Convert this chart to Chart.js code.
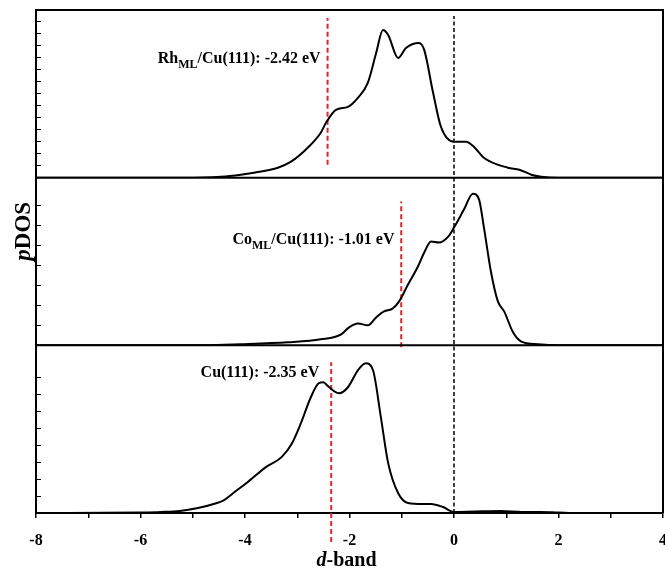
<!DOCTYPE html>
<html lang="en">
<head>
  <meta charset="UTF-8">
  <title>pDOS d-band</title>
  <script src="https://cdn.jsdelivr.net/npm/chart.js"></script>
  <style>
    html, body { margin: 0; padding: 0; background: #fff; }
    #wrap { width: 665px; height: 570px; }
  </style>
</head>
<body>
  <div id="wrap"><canvas id="pdosChart"></canvas></div>
  <script>
    // energy (eV) / pDOS (arb. units)
    const rhEnergy = [-8, -5.2, -4.46, -4.08, -3.83, -3.37, -3.12, -2.78, -2.55, -2.45, -2.26, -2.03, -1.84, -1.65, -1.49, -1.36, -1.26, -1.07, -0.92, -0.67, -0.57, -0.40, -0.25, 0.0, 0.23, 0.38, 0.57, 1.03, 1.25, 1.48, 1.67, 2.0, 4];
    const rhDos = [0, 0, 0.01, 0.03, 0.05, 0.10, 0.16, 0.31, 0.45, 0.55, 0.68, 0.71, 0.80, 0.95, 1.25, 1.48, 1.43, 1.20, 1.30, 1.35, 1.28, 0.85, 0.51, 0.36, 0.36, 0.31, 0.20, 0.10, 0.08, 0.03, 0.01, 0, 0];

    const coEnergy = [-8, -4.8, -4.08, -3.18, -2.55, -2.16, -2.01, -1.84, -1.65, -1.49, -1.34, -1.17, -1.05, -0.88, -0.69, -0.57, -0.44, -0.29, -0.11, 0.0, 0.19, 0.36, 0.48, 0.57, 0.71, 0.84, 0.96, 1.13, 1.28, 1.61, 2.0, 4];
    const coDos = [0, 0, 0.01, 0.03, 0.06, 0.11, 0.18, 0.22, 0.20, 0.28, 0.34, 0.37, 0.44, 0.61, 0.79, 0.93, 1.04, 1.03, 1.09, 1.18, 1.36, 1.52, 1.46, 1.19, 0.73, 0.44, 0.34, 0.13, 0.04, 0.01, 0, 0];

    const cuEnergy = [-8, -7.4, -6.0, -5.6, -5.25, -4.9, -4.6, -4.4, -4.2, -3.97, -3.6, -3.3, -3.1, -2.93, -2.74, -2.59, -2.5, -2.41, -2.2, -2.03, -1.84, -1.69, -1.55, -1.40, -1.26, -1.07, -0.88, -0.6, -0.44, -0.21, 0.0, 0.4, 0.9, 1.3, 1.67, 2.0, 2.38, 4];
    const cuDos = [0, 0, 0.005, 0.01, 0.02, 0.05, 0.09, 0.13, 0.21, 0.30, 0.46, 0.56, 0.70, 0.90, 1.16, 1.30, 1.31, 1.27, 1.20, 1.26, 1.43, 1.50, 1.43, 0.96, 0.50, 0.20, 0.10, 0.09, 0.09, 0.06, 0.01, 0.015, 0.02, 0.01, 0.01, 0.005, 0, 0];

    // d-band centres (eV)
    const centers = { rh: -2.42, co: -1.01, cu: -2.35 };
    const fermi = 0;

    const toPoints = (xs, ys) => xs.map((x, i) => ({ x: x, y: ys[i] }));

    const curve = (data, axis) => ({
      data: toPoints(data[0], data[1]),
      yAxisID: axis,
      borderColor: '#000',
      borderWidth: 2,
      pointRadius: 0,
      fill: false,
      cubicInterpolationMode: 'monotone'
    });

    const dashLine = (x, y0, y1, axis, color, dash, w) => ({
      data: [{ x: x, y: y0 }, { x: x, y: y1 }],
      yAxisID: axis,
      borderColor: color,
      borderWidth: w,
      borderDash: dash,
      pointRadius: 0,
      clip: false
    });

    // labels: [text, subscript?]
    const notes = [
      { axis: 'yTop', x: -5.67, y: 1.15, parts: [['Rh', false], ['ML', true], ['/Cu(111): -2.42 eV', false]] },
      { axis: 'yMid', x: -4.24, y: 1.02, parts: [['Co', false], ['ML', true], ['/Cu(111): -1.01 eV', false]] },
      { axis: 'yBot', x: -4.85, y: 1.36, parts: [['Cu(111): -2.35 eV', false]] }
    ];

    const SERIF = '"Liberation Serif", "Times New Roman", serif';
    Chart.defaults.font.family = SERIF;
    Chart.defaults.color = '#000';

    const framePlugin = {
      id: 'frame',
      afterDraw(chart) {
        const { ctx, chartArea: a, scales } = chart;
        ctx.save();
        ctx.strokeStyle = '#000';
        ctx.lineWidth = 2;
        ctx.beginPath();
        ctx.moveTo(a.left, a.top);
        ctx.lineTo(a.right, a.top);
        ctx.lineTo(a.right, a.bottom);
        ['yMid', 'yBot'].forEach(id => {
          const t = scales[id].top;
          ctx.moveTo(a.left, t);
          ctx.lineTo(a.right, t);
        });
        ctx.stroke();

        // panel labels
        ctx.fillStyle = '#000';
        ctx.textBaseline = 'alphabetic';
        ctx.textAlign = 'left';
        notes.forEach(n => {
          let px = scales.x.getPixelForValue(n.x);
          const py = scales[n.axis].getPixelForValue(n.y);
          n.parts.forEach(([txt, sub]) => {
            ctx.font = (sub ? 'bold 12px ' : 'bold 16px ') + SERIF;
            ctx.fillText(txt, px, sub ? py + 5 : py);
            px += ctx.measureText(txt).width;
          });
        });

        // axis titles (mixed italic)
        const drawMixed = (parts, size) => {
          let w = 0;
          parts.forEach(([t, it]) => { ctx.font = (it ? 'italic bold ' : 'bold ') + size + 'px ' + SERIF; w += ctx.measureText(t).width; });
          let px = -w / 2;
          parts.forEach(([t, it]) => {
            ctx.font = (it ? 'italic bold ' : 'bold ') + size + 'px ' + SERIF;
            ctx.fillText(t, px, 0);
            px += ctx.measureText(t).width;
          });
        };
        ctx.save();
        ctx.translate(a.left - 6, a.top + 0.44 * (a.bottom - a.top));
        ctx.rotate(-Math.PI / 2);
        drawMixed([['p', true], ['DOS', false]], 23);
        ctx.restore();

        ctx.save();
        ctx.translate((a.left + a.right) / 2 - 3, 566);
        drawMixed([['d', true], ['-band', false]], 20);
        ctx.restore();

        ctx.restore();
      }
    };

    const yAxis = (step) => ({
      type: 'linear',
      position: 'left',
      stack: 'pdos',
      stackWeight: 1,
      min: 0,
      max: 1.68,
      ticks: { display: false, stepSize: step },
      grid: { display: true, drawOnChartArea: false, drawTicks: true, tickLength: -5, color: '#000', lineWidth: 1 },
      border: { display: true, color: '#000', width: 2 },
      afterFit: s => { s.width = 36; }
    });

    const ctx = document.getElementById('pdosChart').getContext('2d');
    const pdosChart = new Chart(ctx, {
      type: 'line',
      data: {
        datasets: [
          curve([rhEnergy, rhDos], 'yTop'),
          curve([coEnergy, coDos], 'yMid'),
          curve([cuEnergy, cuDos], 'yBot'),
          dashLine(fermi, 0, 4.98, 'yBot', '#000', [4, 2.5], 1.5),
          dashLine(centers.rh, 0.13, 1.60, 'yTop', '#e8232a', [5, 3], 2),
          dashLine(centers.co, -0.02, 1.44, 'yMid', '#e8232a', [5, 3], 2),
          dashLine(centers.cu, -0.29, 1.51, 'yBot', '#e8232a', [5, 3], 2)
        ]
      },
      options: {
        responsive: true,
        maintainAspectRatio: false,
        animation: false,
        devicePixelRatio: 1,
        layout: { padding: { top: 10, right: 2, bottom: 0, left: 0 } },
        plugins: { legend: { display: false }, tooltip: { enabled: false } },
        scales: {
          x: {
            type: 'linear',
            position: 'bottom',
            min: -8,
            max: 4,
            ticks: {
              stepSize: 1,
              autoSkip: false,
              maxRotation: 0,
              padding: 13,
              font: { size: 16, weight: 'bold' },
              callback: v => (v % 2 === 0 ? v : '')
            },
            grid: { display: true, drawOnChartArea: false, drawTicks: true, tickLength: 5, color: '#000', lineWidth: 1.5 },
            border: { display: true, color: '#000', width: 2 },
            afterFit: s => { s.height = 57; s.paddingRight = 0; s.paddingLeft = 0; }
          },
          yBot: yAxis(0.17),
          yMid: yAxis(0.2),
          yTop: yAxis(0.12)
        }
      },
      plugins: [framePlugin]
    });
  </script>
</body>
</html>
